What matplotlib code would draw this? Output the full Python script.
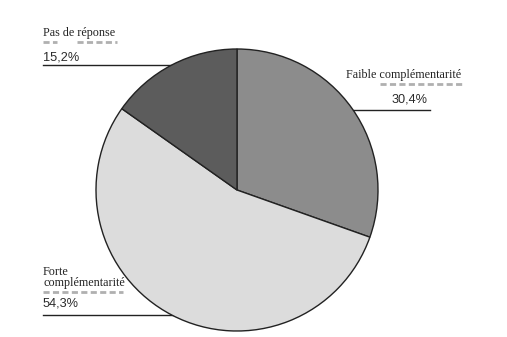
import matplotlib
matplotlib.use("Agg")
import matplotlib.pyplot as plt

# données du graphique
categories = ["Faible complémentarité", "Forte complémentarité", "Pas de réponse"]
valeurs = [30.4, 54.3, 15.2]
etiquettes_pct = ["30,4%", "54,3%", "15,2%"]
couleurs = ["#8c8c8c", "#dcdcdc", "#5c5c5c"]

W, H = 507, 337
fig = plt.figure(figsize=(W / 100, H / 100), dpi=100)
ax = fig.add_axes([0, 0, 1, 1])

def Y(y):  # coordonnées pixel -> axes
    return H - y

# camembert
ax.pie(valeurs, colors=couleurs, startangle=90, counterclock=False,
       center=(237, Y(190)), radius=141, frame=True,
       wedgeprops=dict(edgecolor="#222222", linewidth=1.0, zorder=3))
ax.set_xlim(0, W)
ax.set_ylim(0, H)
ax.set_aspect("equal")
ax.axis("off")

serif = dict(family="Liberation Serif", size=8.7, color="#222222")
sans = dict(family="Liberation Sans", size=9.2, color="#2a2a2a")
souligne = dict(color="#b0b0b0", linewidth=2, linestyle=(0, (2.2, 1.2)), zorder=2)

# Pas de réponse
ax.text(43, Y(33), "Pas de réponse", ha="left", va="center", **serif)
ax.plot([43, 57], [Y(42), Y(42)], **souligne)
ax.plot([77, 117], [Y(42), Y(42)], **souligne)
ax.text(43, Y(57), etiquettes_pct[2], ha="left", va="center", **sans)
ax.plot([43, 200], [Y(65), Y(65)], color="#222222", lw=1, zorder=1)

# Faible complémentarité
ax.text(404, Y(75), categories[0], ha="center", va="center", **serif)
ax.plot([380, 462], [Y(84), Y(84)], **souligne)
ax.text(410, Y(99), etiquettes_pct[0], ha="center", va="center", **sans)
ax.plot([330, 430], [Y(110), Y(110)], color="#222222", lw=1, zorder=1)

# Forte complémentarité
ax.text(43, Y(272), "Forte", ha="left", va="center", **serif)
ax.text(43, Y(283), "complémentarité", ha="left", va="center", **serif)
ax.plot([43, 123], [Y(292), Y(292)], **souligne)
ax.text(43, Y(304), etiquettes_pct[1], ha="left", va="center", **sans)
ax.plot([43, 200], [Y(315), Y(315)], color="#222222", lw=1, zorder=1)

fig.savefig("out.png", dpi=100, facecolor="white")
